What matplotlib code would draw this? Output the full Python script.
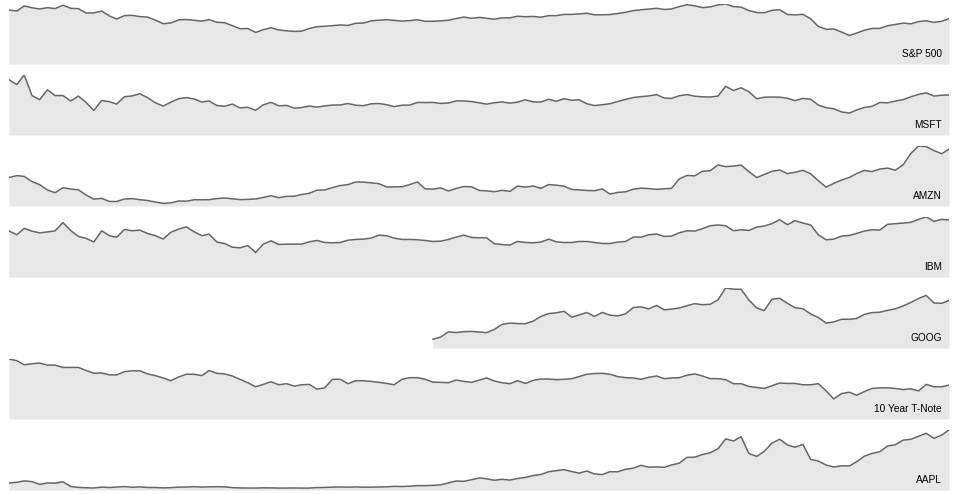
import pandas as pd
import matplotlib.pyplot as plt

# 폰트 설정 (Arial 대체)
plt.rcParams['font.family'] = ['Liberation Sans', 'DejaVu Sans']

# 월별 날짜: 2000년 1월 ~ 2010년 3월 (123개월)
dates = pd.date_range('2000-01-01', periods=123, freq='MS')

sp500 = [
    1394.46, 1366.42, 1498.58, 1452.43, 1420.6, 1454.6, 1430.83, 1517.68, 1436.51, 1429.4, 1314.95, 1320.28,
    1366.01, 1239.94, 1160.33, 1249.46, 1255.82, 1224.38, 1211.23, 1133.58, 1040.94, 1059.78, 1139.45, 1148.08,
    1130.2, 1106.73, 1147.39, 1076.92, 1067.14, 989.82, 911.62, 916.07, 815.28, 885.76, 936.31, 879.82,
    855.7, 841.15, 848.18, 916.92, 963.59, 974.5, 990.31, 1008.01, 995.97, 1050.71, 1058.2, 1111.92,
    1131.13, 1144.94, 1126.21, 1107.3, 1120.68, 1140.84, 1101.72, 1104.24, 1114.58, 1130.2, 1173.82, 1211.92,
    1181.27, 1203.6, 1180.59, 1156.85, 1191.5, 1191.33, 1234.18, 1220.33, 1228.81, 1207.01, 1249.48, 1248.29,
    1280.08, 1280.66, 1294.87, 1310.61, 1270.09, 1270.2, 1276.66, 1303.82, 1335.85, 1377.94, 1400.63, 1418.3,
    1438.24, 1406.82, 1420.86, 1482.37, 1530.62, 1503.35, 1455.27, 1473.99, 1526.75, 1549.38, 1481.14, 1468.36,
    1378.55, 1330.63, 1322.7, 1385.59, 1400.38, 1280, 1267.38, 1282.83, 1166.36, 968.75, 896.24, 903.25,
    825.88, 735.09, 797.87, 872.81, 919.14, 919.32, 987.48, 1020.62, 1057.08, 1036.19, 1095.63, 1115.1,
    1073.87, 1104.49, 1169.43,
]

msft = [
    39.81, 36.35, 43.22, 28.37, 25.45, 32.54, 28.4, 28.4, 24.53, 28.02, 23.34, 17.65,
    24.84, 24, 22.25, 27.56, 28.14, 29.7, 26.93, 23.21, 20.82, 23.65, 26.12, 26.95,
    25.92, 23.73, 24.53, 21.26, 20.71, 22.25, 19.52, 19.97, 17.79, 21.75, 23.46, 21.03,
    21.31, 19.34, 19.76, 20.87, 20.09, 20.93, 21.56, 21.65, 22.69, 21.45, 21.1, 22.46,
    22.69, 21.77, 20.46, 21.45, 21.53, 23.44, 23.38, 23.47, 22.76, 23.02, 24.6, 24.52,
    24.11, 23.15, 22.24, 23.28, 23.82, 22.93, 23.64, 25.35, 23.83, 23.8, 25.71, 24.29,
    26.14, 25.04, 25.36, 22.5, 21.19, 21.8, 22.51, 24.13, 25.68, 26.96, 27.66, 28.13,
    29.07, 26.63, 26.35, 28.3, 29.11, 27.95, 27.5, 27.34, 28.04, 35.03, 32.09, 34,
    31.13, 26.07, 27.21, 27.34, 27.25, 26.47, 24.75, 26.36, 25.78, 21.57, 19.66, 18.91,
    16.63, 15.81, 17.99, 19.84, 20.59, 23.42, 23.18, 24.43, 25.49, 27.48, 29.27, 30.34,
    28.05, 28.67, 28.8,
]

amzn = [
    64.56, 68.87, 67, 55.19, 48.31, 36.31, 30.12, 41.5, 38.44, 36.62, 24.69, 15.56,
    17.31, 10.19, 10.23, 15.78, 16.69, 14.15, 12.49, 8.94, 5.97, 6.98, 11.32, 10.82,
    14.19, 14.1, 14.3, 16.69, 18.23, 16.25, 14.45, 14.94, 15.93, 19.36, 23.35, 18.89,
    21.85, 22.01, 26.03, 28.69, 35.89, 36.32, 41.64, 46.32, 48.43, 54.43, 53.97, 52.62,
    50.4, 43.01, 43.28, 43.6, 48.5, 54.4, 38.92, 38.14, 40.86, 34.13, 39.68, 44.29,
    43.22, 35.18, 34.27, 32.36, 35.51, 33.09, 45.15, 42.7, 45.3, 39.86, 48.46, 47.15,
    44.82, 37.44, 36.53, 35.21, 34.61, 38.68, 26.89, 30.83, 32.12, 38.09, 40.34, 39.46,
    37.67, 39.14, 39.79, 61.33, 69.14, 68.41, 78.54, 79.91, 93.15, 89.15, 90.56, 92.64,
    77.7, 64.47, 71.3, 78.63, 81.62, 73.33, 76.34, 80.81, 72.76, 57.24, 42.7, 51.28,
    58.82, 64.79, 73.44, 80.52, 77.99, 83.66, 85.76, 81.19, 93.36, 118.81, 135.91, 134.52,
    125.41, 118.4, 128.82,
]

ibm = [
    100.52, 92.11, 106.11, 99.95, 96.31, 98.33, 100.74, 118.62, 101.19, 88.5, 84.12, 76.47,
    100.76, 89.98, 86.63, 103.7, 100.82, 102.35, 94.87, 90.25, 82.82, 97.58, 104.5, 109.36,
    98.7, 90.0, 93.6, 76.1, 73.1, 65.1, 63.6, 68.7, 53.4, 71.7, 79.0, 70.9,
    71.7, 71.7, 71.7, 76.8, 79.7, 75.3, 74.6, 75.3, 80.4, 81.9, 82.6, 84.8,
    91.4, 90.0, 84.8, 81.9, 81.9, 81.2, 79.7, 77.5, 78.2, 81.9, 87.0, 91.4,
    86.3, 85.6, 85.6, 72.4, 70.9, 69.5, 77.5, 75.3, 74.6, 76.1, 82.6, 76.8,
    75.3, 75.3, 77.5, 77.5, 75.3, 73.1, 73.1, 76.1, 77.5, 87.0, 87.0, 92.1,
    93.6, 88.5, 89.2, 96.5, 100.9, 100.2, 105.3, 111.9, 113.4, 111.9, 100.9, 103.1,
    101.6, 109.0, 111.2, 116.3, 125.0, 114.1, 122.9, 117.7, 113.4, 92.1, 81.2, 82.6,
    89.2, 90.7, 95.1, 100.2, 103.1, 102.4, 114.8, 116.3, 117.7, 119.2, 125.8, 130.9,
    121.4, 125.8, 124.3,
]

# GOOG는 2004년 8월부터 시작
goog_start = '2004-08-01'
goog = [
    102.37, 129.6, 190.64, 181.98, 192.79,
    195.62, 187.99, 180.51, 220, 277.27, 294.15, 287.76, 286, 316.46, 372.14, 404.91, 414.86,
    432.66, 362.62, 390, 417.94, 371.82, 419.33, 386.6, 378.53, 401.9, 476.39, 484.81, 460.48,
    501.5, 449.45, 458.16, 471.38, 497.91, 522.7, 510, 515.25, 567.27, 707, 693, 691.48,
    564.3, 471.18, 440.47, 574.29, 585.8, 526.42, 473.75, 463.29, 400.52, 359.36, 292.96, 307.65,
    338.53, 337.99, 348.06, 395.97, 417.23, 421.59, 443.05, 461.67, 495.85, 536.12, 583, 619.98,
    529.94, 526.8, 560.19,
]

tnote = [
    6.68, 6.49, 6.04, 6.15, 6.23, 6.00, 6.00, 5.74, 5.74, 5.74, 5.40, 5.09,
    5.13, 4.91, 4.91, 5.28, 5.36, 5.36, 5.02, 4.83, 4.57, 4.26, 4.68, 4.98,
    4.98, 4.83, 5.40, 5.09, 5.02, 4.79, 4.42, 4.04, 3.59, 3.85, 4.15, 3.81,
    3.93, 3.66, 3.81, 3.85, 3.32, 3.47, 4.42, 4.42, 3.93, 4.26, 4.26, 4.19,
    4.08, 3.96, 3.81, 4.42, 4.60, 4.60, 4.42, 4.11, 4.08, 4.04, 4.34, 4.19,
    4.08, 4.34, 4.57, 4.23, 4.04, 3.93, 4.26, 3.96, 4.30, 4.45, 4.45, 4.38,
    4.42, 4.49, 4.72, 4.98, 5.06, 5.09, 4.98, 4.72, 4.60, 4.57, 4.42, 4.64,
    4.79, 4.49, 4.57, 4.60, 4.87, 5.02, 4.79, 4.49, 4.49, 4.38, 3.93, 3.93,
    3.62, 3.51, 3.40, 3.70, 4.00, 3.96, 3.96, 3.81, 3.81, 3.93, 3.13, 2.23,
    2.83, 2.98, 2.64, 3.06, 3.40, 3.47, 3.47, 3.40, 3.28, 3.36, 3.13, 3.85,
    3.59, 3.59, 3.77,
]

aapl = [
    25.94, 28.66, 33.95, 31.01, 21, 26.19, 25.41, 30.47, 12.88, 9.78, 8.25, 7.44,
    10.81, 9.12, 11.03, 12.74, 9.98, 11.62, 9.4, 9.27, 7.76, 8.78, 10.65, 10.95,
    12.36, 10.85, 11.84, 12.14, 11.65, 8.86, 7.63, 7.38, 7.25, 8.03, 7.75, 7.16,
    7.18, 7.51, 7.07, 7.11, 8.98, 9.53, 10.54, 11.31, 10.36, 11.44, 10.45, 10.69,
    11.28, 11.96, 13.52, 12.89, 14.03, 16.27, 16.17, 17.25, 19.38, 26.2, 33.53, 32.2,
    38.45, 44.86, 41.67, 36.06, 39.76, 36.81, 42.65, 46.89, 53.61, 57.59, 67.82, 71.89,
    75.51, 68.49, 62.72, 70.39, 59.77, 57.27, 67.96, 67.85, 76.98, 81.08, 91.66, 84.84,
    85.73, 84.61, 92.91, 99.8, 121.19, 122.04, 131.76, 138.48, 153.47, 189.95, 182.22, 198.08,
    135.36, 125.02, 143.5, 173.95, 188.75, 167.44, 158.95, 169.53, 113.66, 107.59, 92.67, 85.35,
    90.13, 89.31, 105.12, 125.83, 135.81, 142.43, 163.39, 168.21, 185.35, 188.5, 199.91, 210.73,
    192.06, 204.62, 223.02,
]

labels = ['S&P 500', 'MSFT', 'AMZN', 'IBM', 'GOOG', '10 Year T-Note', 'AAPL']


def main():
    goog_dates = dates[dates >= pd.Timestamp(goog_start)]
    series = [
        (dates, sp500), (dates, msft), (dates, amzn), (dates, ibm),
        (goog_dates, goog), (dates, tnote), (dates, aapl),
    ]

    W, H = 959, 494
    fig = plt.figure(figsize=(W / 100, H / 100), dpi=100)

    # 패널 배치 (픽셀 단위)
    left, width = 9, 940
    panel_h, step, top0 = 60, 71, 4

    for k, ((x, y), name) in enumerate(zip(series, labels)):
        top = top0 + step * k
        ax = fig.add_axes([left / W, 1 - (top + panel_h) / H, width / W, panel_h / H])
        ax.fill_between(x, 0, y, color='#e7e7e7', linewidth=0)
        ax.plot(x, y, color='#666666', linewidth=1.1)
        ax.set_xlim(dates[0], dates[-1])
        ax.set_ylim(0, max(y))
        ax.axis('off')
        ax.annotate(name, xy=(1, 0), xycoords='axes fraction',
                    xytext=(-7, 7), textcoords='offset pixels',
                    ha='right', va='baseline', fontsize=7.3, color='#000000')

    fig.savefig('out.png', dpi=100)


if __name__ == '__main__':
    main()
